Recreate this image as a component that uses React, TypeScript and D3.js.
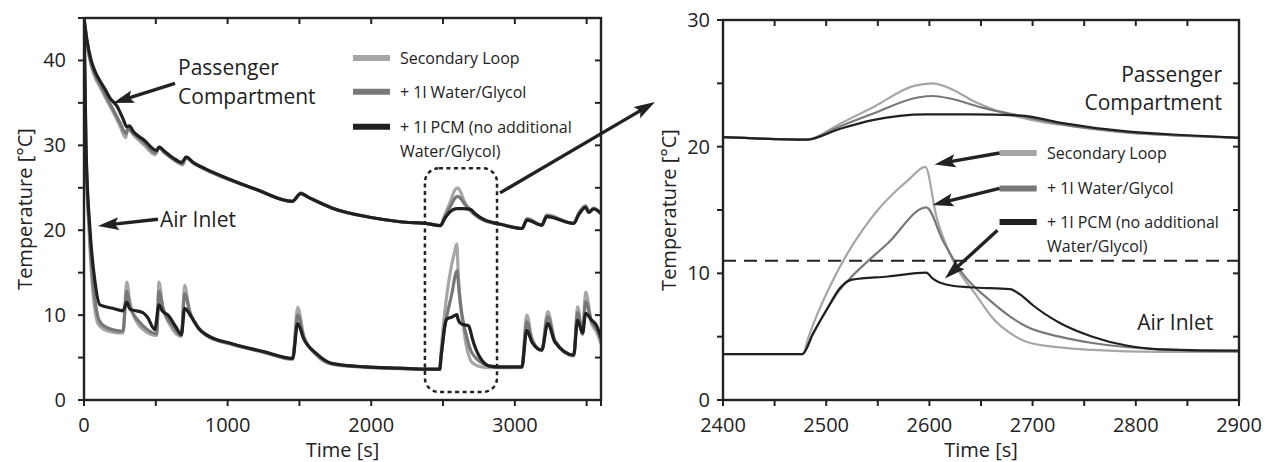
import * as d3 from 'd3';

type Pt = [number, number];

// time [s], temperature [°C]
const cabinSecondary: Pt[] = [[0,45],[20,42.0],[50,39.4],[80,37.9],[111,36.9],[150,35.6],[200,34.0],[250,32.3],[290,30.9],[305,31.9],[345,31.2],[420,30.0],[495,28.9],[520,29.7],[560,29.1],[640,28.1],[685,27.7],[710,28.5],[760,27.9],[850,27.1],[1000,26.0],[1200,24.8],[1450,23.4],[1510,24.4],[1560,23.9],[1730,22.6],[2000,21.5],[2200,21.0],[2400,20.75],[2481,20.55],[2513,21.8],[2545,23.1],[2585,24.8],[2603,25.0],[2620,24.6],[2645,23.5],[2670,22.7],[2700,22.1],[2726,21.75],[2791,21.1],[2850,20.85],[2900,20.7],[3050,20.2],[3085,21.4],[3188,20.6],[3222,21.8],[3410,20.8],[3444,22.0],[3493,22.9],[3514,22.2],[3549,22.6],[3600,21.9]];
const cabinWater: Pt[] = [[0,45],[20,42.2],[50,39.6],[80,38.2],[111,37.2],[150,35.9],[200,34.3],[250,32.7],[292,31.4],[305,32.0],[345,31.4],[420,30.3],[500,29.1],[522,29.8],[560,29.2],[640,28.2],[685,27.8],[711,28.6],[760,27.95],[850,27.15],[1000,26.05],[1200,24.8],[1450,23.4],[1510,24.35],[1560,23.9],[1730,22.6],[2000,21.5],[2200,21.0],[2400,20.75],[2481,20.55],[2513,21.6],[2545,22.6],[2590,23.9],[2603,24.0],[2620,23.8],[2650,23.1],[2690,22.4],[2726,21.8],[2791,21.15],[2850,20.85],[2900,20.7],[3050,20.2],[3085,21.3],[3188,20.6],[3222,21.7],[3410,20.8],[3444,21.9],[3493,22.8],[3514,22.15],[3549,22.55],[3600,21.95]];
const cabinPcm: Pt[] = [[0,45],[20,42.5],[50,40.0],[80,38.6],[111,37.6],[150,36.5],[180,35.6],[230,34.6],[270,33.2],[298,32.2],[315,32.3],[345,31.6],[420,30.6],[505,29.4],[525,29.8],[560,29.3],[640,28.3],[680,28.0],[712,28.6],[760,28.0],[850,27.2],[1000,26.1],[1200,24.8],[1450,23.4],[1510,24.3],[1560,23.9],[1730,22.6],[2000,21.5],[2200,21.0],[2400,20.75],[2481,20.55],[2513,21.4],[2545,22.1],[2597,22.55],[2640,22.55],[2690,22.45],[2726,21.9],[2791,21.2],[2850,20.9],[2900,20.7],[3050,20.2],[3085,21.2],[3188,20.6],[3222,21.6],[3410,20.8],[3444,21.8],[3493,22.7],[3514,22.1],[3549,22.5],[3600,22.0]];

const inletSecondary: Pt[] = [[0,45],[12,30],[35,20],[60,13],[80,10.2],[97,9.0],[130,8.4],[200,8.0],[271,7.9],[298,13.9],[320,11.5],[360,9.4],[420,8.2],[506,7.6],[522,13.9],[545,11.3],[600,8.8],[678,7.5],[701,13.5],[730,10.8],[780,9.0],[852,7.6],[1037,6.5],[1250,5.6],[1453,4.8],[1488,10.9],[1530,7.6],[1617,5.3],[1730,4.2],[1963,3.85],[2200,3.7],[2400,3.6],[2477,3.6],[2483,5.0],[2490,6.5],[2505,9.2],[2520,11.5],[2535,13.4],[2550,15.0],[2565,16.3],[2580,17.4],[2596,18.4],[2607,14.4],[2623,11.0],[2646,8.2],[2661,6.5],[2678,5.3],[2694,4.6],[2726,4.15],[2758,3.95],[2823,3.8],[2900,3.8],[3049,3.85],[3083,10.0],[3120,7.2],[3188,5.8],[3229,10.4],[3280,7.0],[3410,5.2],[3437,11.0],[3472,7.7],[3493,12.7],[3535,9.0],[3570,8.0],[3600,6.6]];
const inletWater: Pt[] = [[0,45],[13,30],[38,20],[65,13.5],[85,10.8],[105,9.4],[150,8.6],[271,8.1],[298,12.8],[320,11.0],[380,9.3],[440,8.3],[506,7.8],[522,12.8],[550,10.8],[620,8.7],[678,7.6],[701,12.5],[740,10.2],[800,8.4],[852,7.6],[1037,6.55],[1250,5.65],[1453,4.85],[1488,10.0],[1530,7.4],[1617,5.4],[1730,4.25],[1963,3.88],[2200,3.72],[2400,3.62],[2477,3.62],[2487,5.2],[2501,7.2],[2513,8.7],[2523,9.6],[2560,12.4],[2597,15.2],[2613,12.6],[2632,10.0],[2658,7.9],[2678,6.6],[2694,5.8],[2726,5.0],[2758,4.5],[2823,4.0],[2900,3.85],[3049,3.88],[3083,9.2],[3120,7.0],[3188,5.85],[3229,9.8],[3280,6.9],[3410,5.25],[3437,10.3],[3472,7.8],[3493,11.6],[3535,9.2],[3570,8.4],[3600,7.0]];
const inletPcm: Pt[] = [[0,45],[14,30],[42,20],[76,14],[111,11.2],[200,10.8],[271,10.5],[298,11.5],[320,10.7],[410,10.3],[440,9.8],[493,8.3],[522,11.2],[545,10.5],[585,10.0],[640,8.6],[678,7.7],[701,10.8],[747,9.8],[800,8.4],[852,7.7],[1037,6.6],[1250,5.7],[1453,4.9],[1488,9.0],[1530,7.2],[1617,5.5],[1730,4.3],[1963,3.9],[2200,3.75],[2400,3.63],[2477,3.63],[2487,5.2],[2501,7.2],[2513,8.8],[2525,9.5],[2560,9.75],[2597,10.05],[2603,9.6],[2617,9.1],[2639,8.9],[2678,8.75],[2690,8.2],[2700,7.5],[2726,6.1],[2758,5.0],[2791,4.3],[2823,4.0],[2900,3.9],[3049,3.9],[3083,8.2],[3120,6.8],[3188,5.9],[3229,9.0],[3280,6.8],[3410,5.3],[3437,9.4],[3472,7.9],[3493,10.2],[3535,9.4],[3565,8.9],[3600,7.4]];

const seriesColors = ['#a6a6a6', '#787878', '#202020'];
const legendLabels = [['Secondary Loop'], ['+ 1l Water/Glycol'], ['+ 1l PCM (no additional', 'Water/Glycol)']];
const limitTemp = 11;

const FONT = "'Open Sans', sans-serif";
const INK = '#222';

const seriesSets = [
  [cabinSecondary, inletSecondary],
  [cabinWater, inletWater],
  [cabinPcm, inletPcm],
];

function Arrow({ x1, y1, x2, y2, head = 21, w = 6.5 }: { x1: number; y1: number; x2: number; y2: number; head?: number; w?: number }) {
  const a = Math.atan2(y2 - y1, x2 - x1);
  const bx = x2 - head * Math.cos(a), by = y2 - head * Math.sin(a);
  const pts = [
    [x2, y2],
    [bx + w * Math.sin(a), by - w * Math.cos(a)],
    [bx + 4 * Math.cos(a), by + 4 * Math.sin(a)],
    [bx - w * Math.sin(a), by + w * Math.cos(a)],
  ].map(p => p.join(',')).join(' ');
  return (
    <g>
      <line x1={x1} y1={y1} x2={bx + 5 * Math.cos(a)} y2={by + 5 * Math.sin(a)} stroke={INK} strokeWidth={3.4} />
      <polygon points={pts} fill={INK} />
    </g>
  );
}

function Panel(props: {
  id: string;
  x0: number; x1: number; y0: number; y1: number;
  xDomain: [number, number]; yDomain: [number, number];
  xLabels: number[]; xStep: number; yLabels: number[]; yStep: number;
  lineWidth: number; yLabelGap: number; yTitleX: number;
  children?: (x: d3.ScaleLinear<number, number>, y: d3.ScaleLinear<number, number>) => any;
}) {
  const { id, x0, x1, y0, y1, xDomain, yDomain, xLabels, xStep, yLabels, yStep, lineWidth } = props;
  const x = d3.scaleLinear().domain(xDomain).range([x0, x1]);
  const y = d3.scaleLinear().domain(yDomain).range([y1, y0]);
  const line = d3.line<Pt>().x(d => x(d[0])).y(d => y(d[1])).curve(d3.curveMonotoneX);
  const xt = d3.range(xDomain[0] + xStep, xDomain[1], xStep);
  const yt = d3.range(yDomain[0] + yStep, yDomain[1] + 0.001, yStep);
  const tl = 6;
  return (
    <g>
      <defs>
        <clipPath id={id}>
          <rect x={x0} y={y0} width={x1 - x0} height={y1 - y0} />
        </clipPath>
      </defs>
      <g clipPath={`url(#${id})`}>
        {seriesSets.map((set, i) => set.map((s, j) => (
          <path key={`${i}-${j}`} d={line(s) || ''} fill="none" stroke={seriesColors[i]}
            strokeWidth={lineWidth} strokeLinejoin="round" strokeLinecap="round" />
        )))}
      </g>
      {props.children && props.children(x, y)}
      {xt.map(t => (
        <g key={'x' + t}>
          <line x1={x(t)} x2={x(t)} y1={y0} y2={y0 + tl} stroke={INK} strokeWidth={2} />
          <line x1={x(t)} x2={x(t)} y1={y1} y2={y1 + tl} stroke={INK} strokeWidth={2} />
        </g>
      ))}
      {[xDomain[0], xDomain[1]].map(t => (
        <line key={'xe' + t} x1={x(t)} x2={x(t)} y1={y1} y2={y1 + tl} stroke={INK} strokeWidth={2} />
      ))}
      {yt.map(v => (
        <g key={'y' + v}>
          <line x1={x0 - tl} x2={x0} y1={y(v)} y2={y(v)} stroke={INK} strokeWidth={2} />
          {v < yDomain[1] && <line x1={x1 - tl} x2={x1} y1={y(v)} y2={y(v)} stroke={INK} strokeWidth={2} />}
        </g>
      ))}
      <line x1={x0 - tl} x2={x0} y1={y1} y2={y1} stroke={INK} strokeWidth={2} />
      <rect x={x0} y={y0} width={x1 - x0} height={y1 - y0} fill="none" stroke={INK} strokeWidth={2.4} />
      {xLabels.map(t => (
        <text key={'xl' + t} x={x(t)} y={432} textAnchor="middle" fontSize={20} fill={INK} fontFamily={FONT}>{t}</text>
      ))}
      {yLabels.map(v => (
        <text key={'yl' + v} x={x0 - props.yLabelGap} y={y(v) + 7} textAnchor="end" fontSize={20} fill={INK} fontFamily={FONT}>{v}</text>
      ))}
      <text x={(x0 + x1) / 2} y={457} textAnchor="middle" fontSize={20} fill={INK} fontFamily={FONT}>Time [s]</text>
      <text transform={`translate(${props.yTitleX},${(y0 + y1) / 2}) rotate(-90)`} textAnchor="middle" fontSize={20} fill={INK} fontFamily={FONT}>Temperature [°C]</text>
    </g>
  );
}

function Legend({ x, y, tx, rows }: { x: [number, number]; y: number[]; tx: number; rows: string[][] }) {
  return (
    <g>
      {rows.map((r, i) => (
        <g key={i}>
          <line x1={x[0]} x2={x[1]} y1={y[i]} y2={y[i]} stroke={seriesColors[i]} strokeWidth={6} />
          {r.map((s, k) => (
            <text key={k} x={tx} y={y[i] + 6 + k * 24} fontSize={16} fill={INK} fontFamily={FONT}>{s}</text>
          ))}
        </g>
      ))}
    </g>
  );
}

export default function App() {
  return (
    <svg width={1275} height={462} style={{ position: 'absolute', left: 0, top: 0, background: '#fff' }}>
      <Panel id="cl" x0={84} x1={601} y0={18} y1={400} xDomain={[0, 3600]} yDomain={[0, 45]}
        xLabels={[0, 1000, 2000, 3000]} xStep={500} yLabels={[0, 10, 20, 30, 40]} yStep={5}
        lineWidth={3.2} yLabelGap={18} yTitleX={32}>
        {(x, y) => (
          <g>
            <text x={x(655)} y={y(38.3)} fontSize={21} fill={INK} fontFamily={FONT}>Passenger</text>
            <text x={x(655)} y={y(34.9)} fontSize={21} fill={INK} fontFamily={FONT}>Compartment</text>
            <Arrow x1={x(634)} y1={y(37.3)} x2={x(202)} y2={y(35.0)} />
            <text x={x(529)} y={y(20.4)} fontSize={21} fill={INK} fontFamily={FONT}>Air Inlet</text>
            <Arrow x1={x(515)} y1={y(21.3)} x2={x(97)} y2={y(20.5)} />
            <Legend x={[x(1873), x(2131)]} y={[y(40.3), y(36.3), y(32.2)]} tx={x(2200)} rows={legendLabels} />
            <rect x={x(2374)} y={y(27.3)} width={x(2876) - x(2374)} height={y(0.94) - y(27.3)} rx={14}
              fill="none" stroke={INK} strokeWidth={2.5} strokeDasharray="4 3.5" />
            <Arrow x1={x(2897)} y1={y(24.4)} x2={x(3976)} y2={y(35.1)} />
          </g>
        )}
      </Panel>
      <Panel id="cr" x0={723} x1={1239} y0={20} y1={400} xDomain={[2400, 2900]} yDomain={[0, 30]}
        xLabels={[2400, 2500, 2600, 2700, 2800, 2900]} xStep={50} yLabels={[0, 10, 20, 30]} yStep={5}
        lineWidth={2.2} yLabelGap={13} yTitleX={676}>
        {(x, y) => (
          <g>
            <line x1={x(2400)} x2={x(2900)} y1={y(limitTemp)} y2={y(limitTemp)} stroke={INK} strokeWidth={2} strokeDasharray="13 8" />
            <text x={x(2883.5)} y={y(25.1)} textAnchor="end" fontSize={21} fill={INK} fontFamily={FONT}>Passenger</text>
            <text x={x(2883.5)} y={y(22.9)} textAnchor="end" fontSize={21} fill={INK} fontFamily={FONT}>Compartment</text>
            <text x={x(2875)} y={y(5.5)} textAnchor="end" fontSize={21} fill={INK} fontFamily={FONT}>Air Inlet</text>
            <Legend x={[x(2668), x(2704)]} y={[y(19.5), y(16.7), y(14.05)]} tx={x(2714)} rows={legendLabels} />
            <Arrow x1={x(2668)} y1={y(19.5)} x2={x(2605)} y2={y(18.6)} />
            <Arrow x1={x(2668)} y1={y(16.7)} x2={x(2603)} y2={y(15.4)} />
            <Arrow x1={x(2666)} y1={y(13.4)} x2={x(2615)} y2={y(9.6)} />
          </g>
        )}
      </Panel>
    </svg>
  );
}
